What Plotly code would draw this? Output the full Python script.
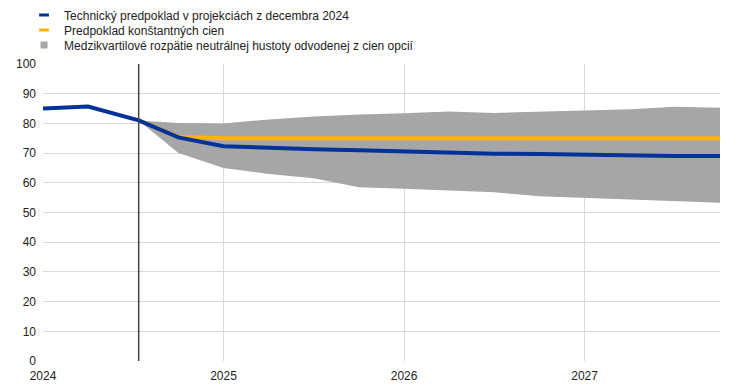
import plotly.graph_objects as go

# Data (x as fractional years)
x_hist = [2024.0, 2024.25, 2024.53]
blue_hist = [85.0, 85.7, 81.0]

x_proj = [2024.53, 2024.75, 2025.0, 2025.25, 2025.5, 2025.75, 2026.0, 2026.25,
          2026.5, 2026.75, 2027.0, 2027.25, 2027.5, 2027.75]
blue_proj = [81.0, 75.3, 72.3, 71.7, 71.3, 71.0, 70.6, 70.0, 69.8, 69.7, 69.4, 69.3, 69.0, 69.0]
yellow = [81.0, 75.5, 75.0, 75.0, 75.0, 75.0, 75.0, 75.0, 75.0, 75.0, 75.0, 75.0, 75.0, 75.0]
band_upper = [81.0, 80.1, 80.0, 81.3, 82.3, 83.0, 83.4, 84.0, 83.5, 84.0, 84.4, 84.8, 85.6, 85.3]
band_lower = [81.0, 70.0, 65.0, 63.0, 61.5, 58.5, 58.0, 57.5, 56.8, 55.5, 55.0, 54.5, 54.0, 53.3]

x_blue = x_hist + x_proj[1:]
blue = blue_hist + blue_proj[1:]

tick_vals = [2024, 2025, 2026, 2027]
tick_text = ["2024", "2025", "2026", "2027"]
cut_x = 2024.53

names = ["Technický predpoklad v projekciách z decembra 2024",
         "Predpoklad konštantných cien",
         "Medzikvartilové rozpätie neutrálnej hustoty odvodenej z cien opcií"]

BLUE = "#003299"
YELLOW = "#FFB400"
GREY = "#A6A6A6"
FONT = "Liberation Sans, Arial"
TXT = "#222222"

W, H = 737, 384
ML, MR, MT, MB = 35, 25, 56, 31
PH = H - MT - MB

fig = go.Figure()
# plotted marks
fig.add_trace(go.Scatter(x=x_proj, y=band_lower, mode="lines", line=dict(width=0, color=GREY),
                         showlegend=False, hoverinfo="skip"))
fig.add_trace(go.Scatter(x=x_proj, y=band_upper, mode="lines", line=dict(width=0, color=GREY),
                         fill="tonexty", fillcolor=GREY, name=names[2], showlegend=False))
fig.add_trace(go.Scatter(x=x_proj, y=yellow, mode="lines", line=dict(width=4, color=YELLOW),
                         name=names[1], showlegend=False))
fig.add_trace(go.Scatter(x=x_blue, y=blue, mode="lines", line=dict(width=4, color=BLUE),
                         name=names[0], showlegend=False))

# legend entries (compact symbols as in the reference), one legend per row
fig.add_trace(go.Scatter(x=[None], y=[None], mode="markers", name=names[0], legend="legend",
                         marker=dict(symbol="line-ew", size=7, line=dict(width=3, color=BLUE))))
fig.add_trace(go.Scatter(x=[None], y=[None], mode="markers", name=names[1], legend="legend2",
                         marker=dict(symbol="line-ew", size=7, line=dict(width=3, color=YELLOW))))
fig.add_trace(go.Scatter(x=[None], y=[None], mode="markers", name=names[2], legend="legend3",
                         marker=dict(symbol="square", size=7, color=GREY, line=dict(width=0))))

fig.add_shape(type="line", x0=cut_x, x1=cut_x, y0=0, y1=100, xref="x", yref="y",
              line=dict(color="#444444", width=1.5), layer="above")

row_centers = [7, 22, 37]  # px from top of figure
lx = -0.028


def leg(yc):
    return dict(x=lx, y=1 + (MT - yc) / PH, xanchor="left", yanchor="middle",
                bgcolor="rgba(0,0,0,0)", itemwidth=30,
                font=dict(family=FONT, size=12, color=TXT))


fig.update_layout(
    width=W, height=H,
    margin=dict(l=ML, r=MR, t=MT, b=MB, autoexpand=False),
    paper_bgcolor="white", plot_bgcolor="white",
    font=dict(family=FONT, size=12, color=TXT),
    showlegend=True,
    legend=leg(row_centers[0]),
    legend2=leg(row_centers[1]),
    legend3=leg(row_centers[2]),
    xaxis=dict(range=[2024, 2027.75], tickvals=tick_vals, ticktext=tick_text,
               showgrid=True, gridcolor="#D9D9D9", gridwidth=1, zeroline=False,
               showline=False, ticks="", tickfont=dict(size=12), ticklabelstandoff=6),
    yaxis=dict(range=[0, 100], dtick=10, showgrid=True, gridcolor="#D9D9D9", gridwidth=1,
               zeroline=False, showline=False, ticks="", tickfont=dict(size=12),
               ticklabelstandoff=6),
)

fig.write_html("out.html")
